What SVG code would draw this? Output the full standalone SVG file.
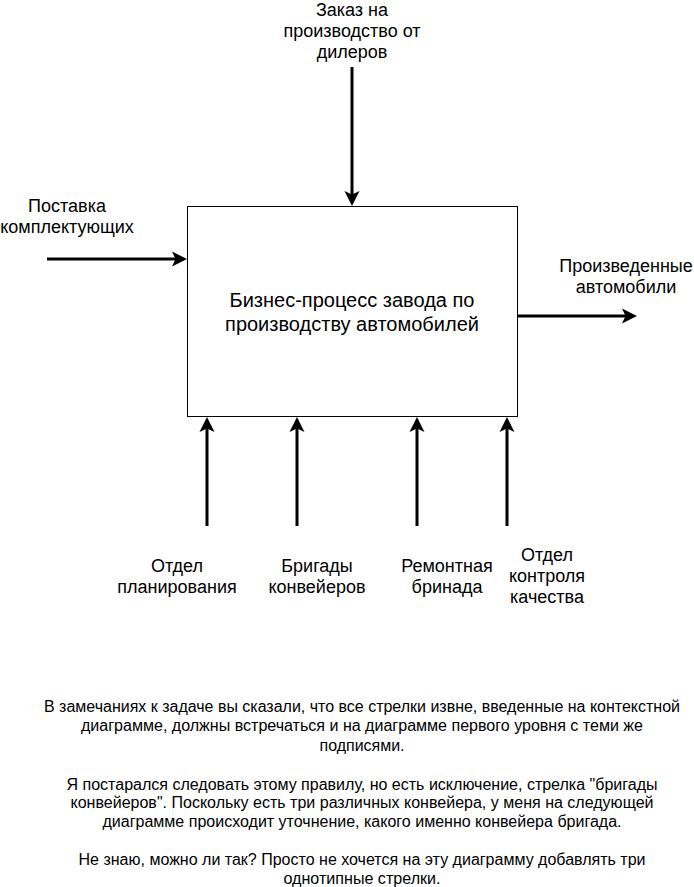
<svg xmlns="http://www.w3.org/2000/svg" width="694" height="887" viewBox="0 0 694 887">
<defs>
<marker id="arr" markerUnits="userSpaceOnUse" markerWidth="20" markerHeight="18" viewBox="-8 -9 20 18" refX="0" refY="0" orient="auto">
<path d="M8,0 L-7,-7.5 L-3.5,0 L-7,7.5 Z" fill="#000"/>
</marker>
<style>
text{font-family:"Liberation Sans",Arial,sans-serif;fill:#000;text-anchor:middle}
.lbl{font-size:18px}
.main{font-size:20px}
.note{font-size:16px}
.c{stroke:#000;stroke-width:3;fill:none;marker-end:url(#arr)}
</style>
</defs>
<rect width="694" height="887" fill="#fff"/>
<g id="connectors">
<line class="c" x1="352" y1="67" x2="352" y2="198"/>
<line class="c" x1="47" y1="259" x2="179" y2="259"/>
<line class="c" x1="517" y1="316" x2="629" y2="316"/>
<line class="c" x1="207" y1="526" x2="207" y2="425"/>
<line class="c" x1="297" y1="526" x2="297" y2="425"/>
<line class="c" x1="417" y1="526" x2="417" y2="425"/>
<line class="c" x1="507" y1="526" x2="507" y2="425"/>
</g>
<g id="process">
<rect x="187.5" y="206.5" width="330" height="210" fill="#fff" stroke="#000" stroke-width="1"/>
<text class="main" x="352" y="307">Бизнес-процесс завода по</text>
<text class="main" x="352" y="331">производству автомобилей</text>
</g>
<g id="label-order">
<text class="lbl" x="352" y="16">Заказ на</text>
<text class="lbl" x="352" y="37">производство от</text>
<text class="lbl" x="352" y="58">дилеров</text>
</g>
<g id="label-supply">
<text class="lbl" x="67" y="212">Поставка</text>
<text class="lbl" x="67" y="233">комплектующих</text>
</g>
<g id="label-output">
<text class="lbl" x="626" y="272">Произведенные</text>
<text class="lbl" x="626" y="293">автомобили</text>
</g>
<g id="label-planning">
<text class="lbl" x="177" y="572">Отдел</text>
<text class="lbl" x="177" y="593">планирования</text>
</g>
<g id="label-brigades">
<text class="lbl" x="317" y="572">Бригады</text>
<text class="lbl" x="317" y="593">конвейеров</text>
</g>
<g id="label-repair">
<text class="lbl" x="447" y="572">Ремонтная</text>
<text class="lbl" x="447" y="593">бринада</text>
</g>
<g id="label-quality">
<text class="lbl" x="547" y="561">Отдел</text>
<text class="lbl" x="547" y="582">контроля</text>
<text class="lbl" x="547" y="603">качества</text>
</g>
<g id="note">
<text class="note" x="362" y="712" textLength="636" lengthAdjust="spacingAndGlyphs">В замечаниях к задаче вы сказали, что все стрелки извне, введенные на контекстной</text>
<text class="note" x="362" y="731" textLength="562" lengthAdjust="spacingAndGlyphs">диаграмме, должны встречаться и на диаграмме первого уровня с теми же</text>
<text class="note" x="362" y="751" textLength="85" lengthAdjust="spacingAndGlyphs">подписями.</text>
<text class="note" x="362" y="790" textLength="591" lengthAdjust="spacingAndGlyphs">Я постарался следовать этому правилу, но есть исключение, стрелка "бригады</text>
<text class="note" x="362" y="808" textLength="583" lengthAdjust="spacingAndGlyphs">конвейеров". Поскольку есть три различных конвейера, у меня на следующей</text>
<text class="note" x="362" y="827" textLength="519" lengthAdjust="spacingAndGlyphs">диаграмме происходит уточнение, какого именно конвейера бригада.</text>
<text class="note" x="362" y="865" textLength="567" lengthAdjust="spacingAndGlyphs">Не знаю, можно ли так? Просто не хочется на эту диаграмму добавлять три</text>
<text class="note" x="362" y="884" textLength="157" lengthAdjust="spacingAndGlyphs">однотипные стрелки.</text>
</g>
</svg>
